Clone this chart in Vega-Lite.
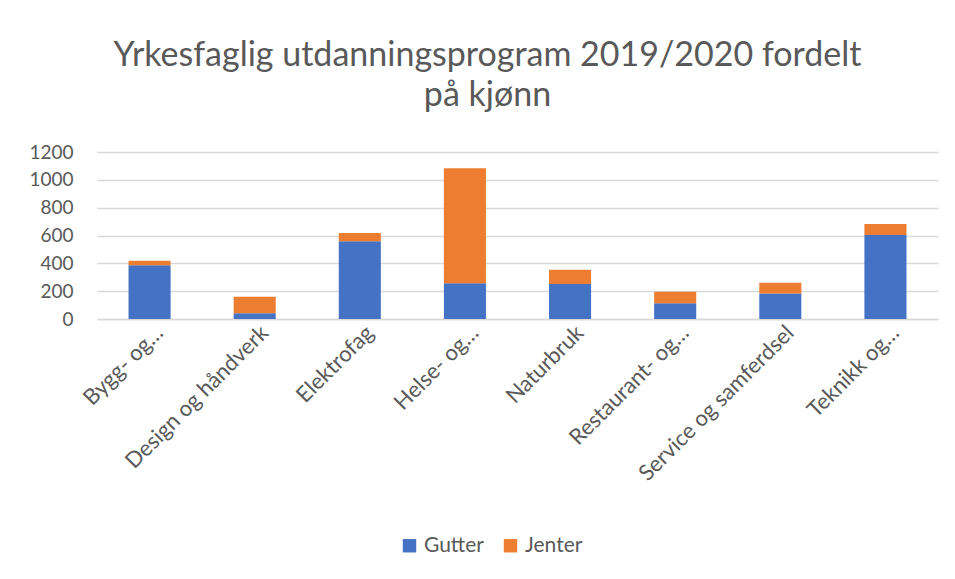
{
  "$schema": "https://vega.github.io/schema/vega-lite/v6.json",
  "autosize": {"type": "none"},
  "padding": {"left": 97, "top": 152, "right": 17, "bottom": 260},
  "width": 841,
  "height": 167,
  "background": "white",
  "title": {
    "text": ["Yrkesfaglig utdanningsprogram 2019/2020 fordelt", "på kjønn"],
    "font": "Lato",
    "fontSize": 34,
    "fontWeight": "normal",
    "color": "#595959",
    "anchor": "middle",
    "dx": -30,
    "offset": 30,
    "lineHeight": 40
  },
  "data": {
    "values": [
      {"program": "Bygg- og…", "kjonn": "Gutter", "antall": 386},
      {"program": "Bygg- og…", "kjonn": "Jenter", "antall": 33},
      {"program": "Design og håndverk", "kjonn": "Gutter", "antall": 41},
      {"program": "Design og håndverk", "kjonn": "Jenter", "antall": 119},
      {"program": "Elektrofag", "kjonn": "Gutter", "antall": 558},
      {"program": "Elektrofag", "kjonn": "Jenter", "antall": 60},
      {"program": "Helse- og…", "kjonn": "Gutter", "antall": 256},
      {"program": "Helse- og…", "kjonn": "Jenter", "antall": 827},
      {"program": "Naturbruk", "kjonn": "Gutter", "antall": 251},
      {"program": "Naturbruk", "kjonn": "Jenter", "antall": 103},
      {"program": "Restaurant- og…", "kjonn": "Gutter", "antall": 113},
      {"program": "Restaurant- og…", "kjonn": "Jenter", "antall": 83},
      {"program": "Service og samferdsel", "kjonn": "Gutter", "antall": 184},
      {"program": "Service og samferdsel", "kjonn": "Jenter", "antall": 77},
      {"program": "Teknikk og…", "kjonn": "Gutter", "antall": 604},
      {"program": "Teknikk og…", "kjonn": "Jenter", "antall": 79}
    ]
  },
  "mark": {"type": "bar"},
  "encoding": {
    "x": {
      "field": "program",
      "type": "nominal",
      "sort": null,
      "scale": {"paddingInner": 0.6, "paddingOuter": 0.3},
      "axis": {
        "title": null,
        "labelAngle": -45,
        "labelAlign": "right",
        "labelBaseline": "middle",
        "labelFont": "Lato",
        "labelFontSize": 22,
        "labelColor": "#595959",
        "labelPadding": 10,
        "labelOffset": 10,
        "ticks": false,
        "domain": true,
        "domainColor": "#d9d9d9",
        "domainWidth": 1.5,
        "grid": false,
        "labelLimit": 300
      }
    },
    "y": {
      "field": "antall",
      "type": "quantitative",
      "stack": "zero",
      "scale": {"domain": [0, 1200]},
      "axis": {
        "title": null,
        "format": "d",
        "values": [0, 200, 400, 600, 800, 1000, 1200],
        "labelFont": "Lato",
        "labelFontSize": 19,
        "labelColor": "#595959",
        "labelPadding": 24,
        "ticks": false,
        "domain": false,
        "grid": true,
        "gridColor": "#d9d9d9",
        "gridWidth": 1.5
      }
    },
    "color": {
      "field": "kjonn",
      "type": "nominal",
      "scale": {"domain": ["Gutter", "Jenter"], "range": ["#4472C4", "#ED7D31"]},
      "legend": {
        "title": null,
        "orient": "none",
        "direction": "horizontal",
        "legendX": 302,
        "legendY": 383,
        "symbolType": "square",
        "symbolSize": 180,
        "symbolStrokeWidth": 0,
        "symbolOpacity": 1,
        "labelFont": "Lato",
        "labelFontSize": 21,
        "labelColor": "#595959",
        "columnPadding": 16
      }
    },
    "order": {"field": "kjonn", "sort": "ascending"}
  },
  "config": {"view": {"stroke": null}}
}
